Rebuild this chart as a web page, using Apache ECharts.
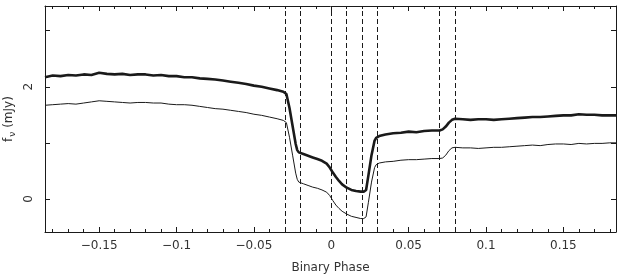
<!DOCTYPE html>
<html>
<head>
<meta charset="utf-8">
<script src="https://cdn.jsdelivr.net/npm/echarts@6/dist/echarts.min.js"></script>
<style>html,body{margin:0;padding:0;background:#fff}#c{width:626px;height:279px}</style>
</head>
<body>
<div id="c"></div>
<script>
// Binary phase (x) values
const phase = [
  -0.185,-0.18,-0.175,-0.17,-0.165,-0.16,-0.155,-0.15,-0.145,-0.14,-0.135,-0.13,-0.125,-0.12,-0.115,-0.11,-0.105,-0.10,-0.095,-0.09,-0.085,-0.08,-0.075,-0.07,-0.065,-0.06,-0.055,-0.05,-0.045,-0.04,-0.035,-0.031,-0.029,
  -0.027,-0.025,-0.023,-0.022,-0.021,-0.018,-0.015,-0.012,-0.009,-0.006,-0.003,-0.001,0.001,0.003,0.005,0.007,0.010,0.013,0.016,0.019,0.021,0.0225,0.024,0.026,0.028,0.029,0.031,
  0.035,0.04,0.045,0.05,0.055,0.06,0.065,0.07,0.072,0.074,0.076,0.078,0.080,0.085,0.09,0.095,0.10,0.105,0.11,0.115,0.12,0.125,0.13,0.135,0.14,0.145,0.15,0.155,0.16,0.165,0.17,0.175,0.18,0.184
];
// Upper (thick) light curve, mJy
const fluxUpper = [
  2.17,2.20,2.19,2.21,2.20,2.22,2.21,2.25,2.23,2.22,2.23,2.21,2.22,2.22,2.20,2.21,2.19,2.19,2.17,2.17,2.15,2.14,2.13,2.11,2.09,2.07,2.05,2.02,2.00,1.97,1.94,1.91,1.87,
  1.62,1.30,0.98,0.87,0.83,0.80,0.77,0.74,0.71,0.68,0.63,0.56,0.47,0.39,0.32,0.26,0.20,0.16,0.14,0.13,0.13,0.16,0.42,0.78,1.04,1.09,1.12,
  1.15,1.17,1.18,1.20,1.19,1.21,1.22,1.22,1.24,1.29,1.36,1.41,1.43,1.42,1.41,1.42,1.42,1.41,1.42,1.43,1.44,1.45,1.46,1.46,1.47,1.48,1.49,1.49,1.51,1.50,1.50,1.49,1.49,1.49
];
// Lower (thin) light curve, mJy
const fluxLower = [
  1.67,1.68,1.69,1.70,1.69,1.71,1.73,1.75,1.74,1.73,1.72,1.71,1.72,1.72,1.71,1.71,1.69,1.68,1.68,1.67,1.65,1.63,1.61,1.60,1.58,1.56,1.54,1.51,1.49,1.46,1.43,1.40,1.36,
  1.10,0.78,0.46,0.35,0.30,0.27,0.24,0.21,0.19,0.16,0.12,0.06,-0.03,-0.11,-0.17,-0.22,-0.27,-0.31,-0.33,-0.35,-0.35,-0.32,-0.06,0.30,0.56,0.61,0.64,
  0.66,0.67,0.69,0.70,0.70,0.71,0.72,0.72,0.73,0.78,0.86,0.91,0.92,0.91,0.91,0.90,0.91,0.92,0.92,0.93,0.94,0.95,0.96,0.95,0.97,0.98,0.98,0.97,0.99,0.98,0.99,0.99,1.00,1.00
];
// Contact phases (dashed lines)
const contactPhases = [-0.029,-0.021,-0.003,0.006,0.022,0.029,0.072,0.079];
// Ticks
const xMajorTicks = [-0.15,-0.1,-0.05,0,0.05,0.1,0.15];
const xTickLabels = ['\u22120.15','\u22120.1','\u22120.05','0','0.05','0.1','0.15'];
const xMinorTicks = [-0.18,-0.17,-0.16,-0.14,-0.13,-0.12,-0.11,-0.09,-0.08,-0.07,-0.06,-0.04,-0.03,-0.02,-0.01,0.01,0.02,0.03,0.04,0.06,0.07,0.08,0.09,0.11,0.12,0.13,0.14,0.16,0.17,0.18];
const yTicks = [0,1,2,3];
const yLabelTicks = [0,2];

const X_MIN = -0.185, X_MAX = 0.184, Y_MIN = -0.59, Y_MAX = 3.44;
const ink = '#1a1a1a', txt = '#333';
const font = 'DejaVu Sans';

function xAxisDef(pos, major, showLabels, showLine) {
  return {
    type: 'value', position: pos, min: X_MIN, max: X_MAX,
    axisLine: { show: showLine, onZero: false, lineStyle: { color: ink, width: 1 } },
    splitLine: { show: false },
    axisTick: { show: true, inside: true, length: major ? 5 : 3, lineStyle: { color: ink, width: 1 },
      customValues: major ? xMajorTicks : xMinorTicks },
    axisLabel: showLabels ? {
      show: true, customValues: xMajorTicks, margin: 8, color: txt, fontFamily: font, fontSize: 12,
      formatter: v => { const i = xMajorTicks.findIndex(t => Math.abs(t - v) < 1e-9); return i >= 0 ? xTickLabels[i] : ''; }
    } : { show: false }
  };
}
function yAxisDef(pos, showLabels) {
  return {
    type: 'value', position: pos, min: Y_MIN, max: Y_MAX,
    axisLine: { show: true, onZero: false, lineStyle: { color: ink, width: 1 } },
    splitLine: { show: false },
    axisTick: { show: true, inside: true, length: 5, lineStyle: { color: ink, width: 1 }, customValues: yTicks },
    axisLabel: showLabels ? { show: true, customValues: yLabelTicks, rotate: 90, margin: 10, color: txt, fontFamily: font, fontSize: 12 } : { show: false }
  };
}

const chart = echarts.init(document.getElementById('c'), null, { renderer: 'canvas' });
const xb = xAxisDef('bottom', true, true, true);
xb.name = 'Binary Phase';
xb.nameLocation = 'middle';
xb.nameGap = 30;
xb.nameMoveOverlap = false;
xb.nameTextStyle = { color: txt, fontFamily: font, fontSize: 12 };
const yl = yAxisDef('left', true);
yl.name = '{a|f}{b|\u03bd}{a| (mJy)}';
yl.nameLocation = 'middle';
yl.nameGap = 28;
yl.nameRotate = 90;
yl.nameMoveOverlap = false;
yl.nameTextStyle = { color: txt, fontFamily: font, fontSize: 12,
  rich: { a: { fontSize: 12, fontFamily: font, color: txt, lineHeight: 16 }, b: { fontSize: 9, fontFamily: font, color: txt, lineHeight: 16, verticalAlign: 'bottom', padding: [6, 0, 0, 1] } } };

chart.setOption({
  animation: false,
  grid: { left: 45, right: 10, top: 6, bottom: 47, containLabel: false, outerBoundsMode: 'none' },
  xAxis: [xb, xAxisDef('bottom', false, false, false), xAxisDef('top', true, false, true), xAxisDef('top', false, false, false)],
  yAxis: [yl, yAxisDef('right', false)],
  series: [
    { type: 'line', xAxisIndex: 0, yAxisIndex: 0, data: phase.map((p, i) => [p, fluxUpper[i]]),
      symbol: 'none', lineStyle: { color: ink, width: 2.6 }, z: 3 },
    { type: 'line', xAxisIndex: 0, yAxisIndex: 0, data: phase.map((p, i) => [p, fluxLower[i]]),
      symbol: 'none', lineStyle: { color: ink, width: 1 }, z: 3,
      markLine: { silent: true, symbol: ['none', 'none'], label: { show: false },
        lineStyle: { color: ink, width: 1, type: [5, 3] },
        data: contactPhases.map(v => ({ xAxis: v })) } }
  ]
});
</script>
</body>
</html>
